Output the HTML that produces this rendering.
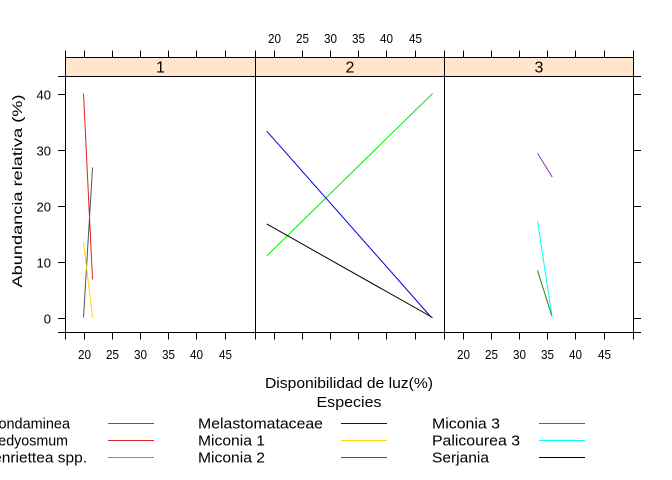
<!DOCTYPE html>
<html><head><meta charset="utf-8"><style>
html,body{margin:0;padding:0;background:#fff;}
svg{display:block;font-family:"Liberation Sans",Arial,sans-serif;}
</style></head><body>
<svg id="chart" width="672" height="480" viewBox="0 0 672 480">
<g id="frame"></g>
<g id="marks"></g>
<text x="349" y="388" text-anchor="middle" font-size="15" textLength="168" lengthAdjust="spacingAndGlyphs">Disponibilidad de luz(%)</text>
<text x="349" y="407" text-anchor="middle" font-size="15" textLength="65" lengthAdjust="spacingAndGlyphs">Especies</text>
<text transform="translate(22,191) rotate(-90)" text-anchor="middle" font-size="14" textLength="193" lengthAdjust="spacingAndGlyphs">Abundancia relativa (%)</text>
<g id="legend"></g>
</svg>
<script>
const panels = ["1","2","3"];
const species = ["Condaminea","Hedyosmum","Henriettea spp.","Melastomataceae","Miconia 1","Miconia 2","Miconia 3","Palicourea 3","Serjania"];
const colors = ["#3f7f00","#dd2222","#00ee00","#0000dd","#ffd700","#555555","#9932cc","#00ffff","#000000"];
const xTicks = [20,25,30,35,40,45];
const yTicks = [0,10,20,30,40];
const segPanel = [0,0,0,1,1,1,2,2,2];
const segSpecies = [1,5,4,2,3,8,6,7,0];
const segX1 = [20,21.6,20,18.8,18.8,18.8,33.3,33.3,33.3];
const segY1 = [40,26.8,13.5,11,33.3,16.7,29.3,17.2,8.4];
const segX2 = [21.6,20,21.6,48.2,48.0,48.2,35.9,35.9,35.8];
const segY2 = [6.8,0,0,40,0,0,25.1,0,0.4];

const NS="http://www.w3.org/2000/svg";
const pL=[65.5,255.5,444.5], pR=[255.5,444.5,633.5], pTop=76.5, pBot=332.5, stripTop=57.5;
function sx(p,v){return pL[p]+18+(v-20)*5.64;}
function sy(v){return 317.5-v*5.6;}
function mk(tag,attrs,parent,txt){const e=document.createElementNS(NS,tag);for(const k in attrs)e.setAttribute(k,attrs[k]);if(txt!==undefined)e.textContent=txt;parent.appendChild(e);return e;}
const frame=document.getElementById('frame'), marks=document.getElementById('marks'), legend=document.getElementById('legend');
panels.forEach((name,p)=>{
  const w=pR[p]-pL[p];
  const s=mk('rect',{x:pL[p],y:stripTop,width:w,height:pTop-stripTop,fill:'#ffe5cc',stroke:'#000','stroke-width':1},frame);
  
  
  const t=mk('text',{x:pL[p]+w/2,y:stripTop+15,'text-anchor':'middle','font-size':16},frame,name);
  
  
  const r=mk('rect',{x:pL[p],y:pTop,width:w,height:pBot-pTop,fill:'none',stroke:'#000','stroke-width':1},frame);
  
  
  xTicks.forEach(v=>{
    const x=Math.round(sx(p,v))+0.5;
    mk('line',{x1:x,x2:x,y1:pBot,y2:pBot+7,stroke:'#000'},frame);
    mk('line',{x1:x,x2:x,y1:stripTop,y2:stripTop-7,stroke:'#000'},frame);
    const l=mk('text',{x:x,y:p!==1?359:43,'text-anchor':'middle','font-size':13,textLength:13,lengthAdjust:'spacingAndGlyphs'},frame,v);
    
    
  });
  mk('line',{x1:pR[p],x2:pR[p],y1:pBot,y2:pBot+7,stroke:'#000'},frame);
  mk('line',{x1:pL[p],x2:pL[p],y1:pBot,y2:pBot+7,stroke:'#000'},frame);
  mk('line',{x1:pR[p],x2:pR[p],y1:stripTop,y2:stripTop-7,stroke:'#000'},frame);
});
mk('line',{x1:65.5,x2:65.5,y1:stripTop,y2:stripTop-7,stroke:'#000'},frame);
yTicks.forEach(v=>{
  const y=Math.round(sy(v))+0.5;
  mk('line',{x1:65.5,x2:58,y1:y,y2:y,stroke:'#000'},frame);
  mk('line',{x1:633.5,x2:641,y1:y,y2:y,stroke:'#000'},frame);
  const l=mk('text',{x:51,y:y+5,'text-anchor':'end','font-size':13},frame,v);
  
  
});
[pBot,pTop].forEach(y=>{
  mk('line',{x1:65.5,x2:58,y1:y,y2:y,stroke:'#000'},frame);
  mk('line',{x1:633.5,x2:641,y1:y,y2:y,stroke:'#000'},frame);
});
segPanel.forEach((p,i)=>{
  const ln=mk('line',{x1:sx(p,segX1[i]),y1:sy(segY1[i]),x2:sx(p,segX2[i]),y2:sy(segY2[i]),stroke:colors[segSpecies[i]],'stroke-width':1},marks);
  
  
});
const colLine=[108,341,539], rowY=[423.5,440.5,457.5];
const textX=[[-12,-12,-18],[198,198,198],[432,432,432]];
const textW=[[82,80,105],[125,67,67],[68,88,57]];
species.forEach((s,i)=>{
  const c=Math.floor(i/3), r=i%3;
  const t=mk('text',{x:textX[c][r],y:rowY[r]+5,'font-size':15,textLength:textW[c][r],lengthAdjust:'spacingAndGlyphs'},legend,s);
  
  
  const l=mk('line',{x1:colLine[c],x2:colLine[c]+46,y1:rowY[r],y2:rowY[r],stroke:colors[i]},legend);
  
  
});
</script>
</body></html>
